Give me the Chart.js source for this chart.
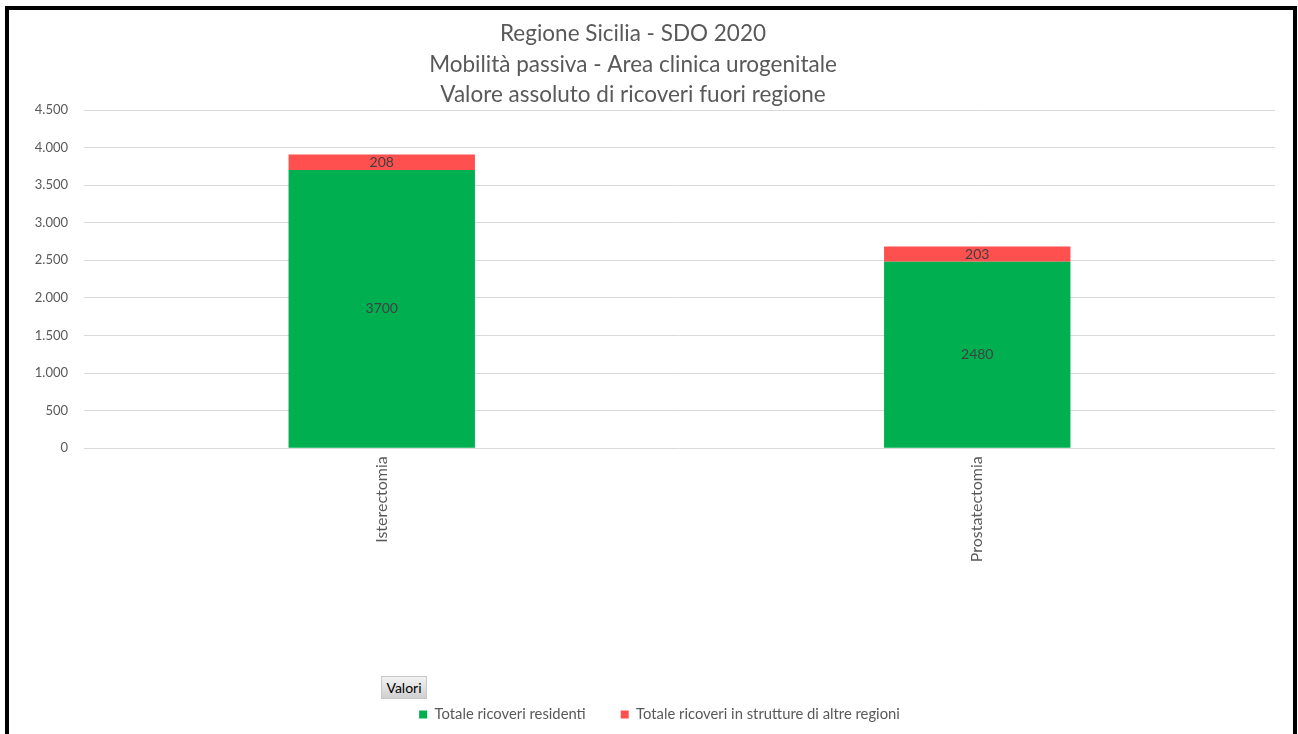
<!DOCTYPE html>
<html>
<head>
<meta charset="utf-8">
<script src="https://cdn.jsdelivr.net/npm/chart.js@4"></script>
<style>
    body { margin: 0; background: #fff; }
    #wrap { position: relative; width: 1298px; height: 734px; overflow: hidden; }
    #frame {
        position: absolute; left: 5px; top: 6px; width: 1284px; height: 740px;
        border: 4px solid #000; border-bottom: none; pointer-events: none;
    }
    #valori {
        position: absolute; left: 381px; top: 676px; width: 44px; height: 21px;
        border: 1px solid #c8c8c8; background: linear-gradient(#f2f2f2, #cfcfcf);
        font: 14px Lato, sans-serif; color: #000; line-height: 21px; text-align: center;
    }
</style>
</head>
<body>
<div id="wrap">
    <canvas id="chart" width="1298" height="734"></canvas>
    <div id="frame"></div>
    <div id="valori">Valori</div>
</div>
<script>
// --- DATI ---
const categorie = ['Isterectomia', 'Prostatectomia'];
const residenti = [3700, 2480];
const altreRegioni = [208, 203];
const titoloRighe = ['Regione Sicilia - SDO 2020', 'Mobilità passiva - Area clinica urogenitale', 'Valore assoluto di ricoveri fuori regione'];
const yTicks = [0, 500, 1000, 1500, 2000, 2500, 3000, 3500, 4000, 4500];

const FONT = 'Lato, "Liberation Sans", sans-serif';

// formato italiano: 4.500
function fmt(v) {
    return v.toString().replace(/\B(?=(\d{3})+(?!\d))/g, '.');
}

// titolo su tre righe
const titlePlugin = {
    id: 'titoloRighe',
    afterDraw(chart) {
        const c = chart.ctx;
        c.save();
        c.font = '22.5px ' + FONT;
        c.fillStyle = '#595959';
        c.textAlign = 'center';
        c.textBaseline = 'middle';
        titoloRighe.forEach((t, i) => c.fillText(t, 633, 34 + i * 30.5));
        c.restore();
    }
};

// legenda un po' spostata a destra
const legendShift = {
    id: 'spostaLegenda',
    afterLayout(chart) {
        chart.legend.left += 12;
        chart.legend.right += 12;
    }
};

// etichette dei valori al centro di ogni segmento
const labelPlugin = {
    id: 'etichette',
    afterDatasetsDraw(chart) {
        const c = chart.ctx;
        c.save();
        c.font = '14px ' + FONT;
        c.fillStyle = '#404040';
        c.textAlign = 'center';
        c.textBaseline = 'middle';
        chart.data.datasets.forEach((ds, di) => {
            chart.getDatasetMeta(di).data.forEach((bar, i) => {
                const yc = (bar.y + bar.base) / 2;
                c.fillText(ds.data[i], bar.x, yc);
            });
        });
        c.restore();
    }
};

const ctx = document.getElementById('chart').getContext('2d');
new Chart(ctx, {
    type: 'bar',
    data: {
        labels: categorie,
        datasets: [{
            label: 'Totale ricoveri residenti',
            data: residenti,
            backgroundColor: '#00B050'
        }, {
            label: 'Totale ricoveri in strutture di altre regioni',
            data: altreRegioni,
            backgroundColor: '#FF5050'
        }]
    },
    options: {
        responsive: false,
        animation: false,
        layout: { padding: { left: 20, right: 23, top: 110, bottom: 2 } },
        datasets: { bar: { barPercentage: 0.313, categoryPercentage: 1 } },
        plugins: {
            title: { display: false },
            tooltip: { enabled: false },
            legend: {
                position: 'bottom',
                labels: {
                    font: { family: FONT, size: 14.8 },
                    color: '#595959',
                    boxWidth: 8,
                    boxHeight: 8,
                    padding: 35
                }
            }
        },
        scales: {
            x: {
                stacked: true,
                grid: { display: false },
                border: { display: false },
                ticks: {
                    color: '#595959',
                    font: { family: FONT, size: 16 },
                    minRotation: 90,
                    maxRotation: 90,
                    padding: 0
                },
                afterFit(scale) { scale.height = 224; }
            },
            y: {
                stacked: true,
                min: 0,
                max: 4500,
                grid: { color: '#d9d9d9', drawTicks: false },
                border: { display: false },
                afterBuildTicks(scale) { scale.ticks = yTicks.map(v => ({ value: v })); },
                ticks: {
                    color: '#595959',
                    font: { family: FONT, size: 13 },
                    padding: 16,
                    callback: v => fmt(v)
                },
                afterFit(scale) { scale.width = 64; }
            }
        }
    },
    plugins: [titlePlugin, legendShift, labelPlugin]
});
</script>
</body>
</html>
